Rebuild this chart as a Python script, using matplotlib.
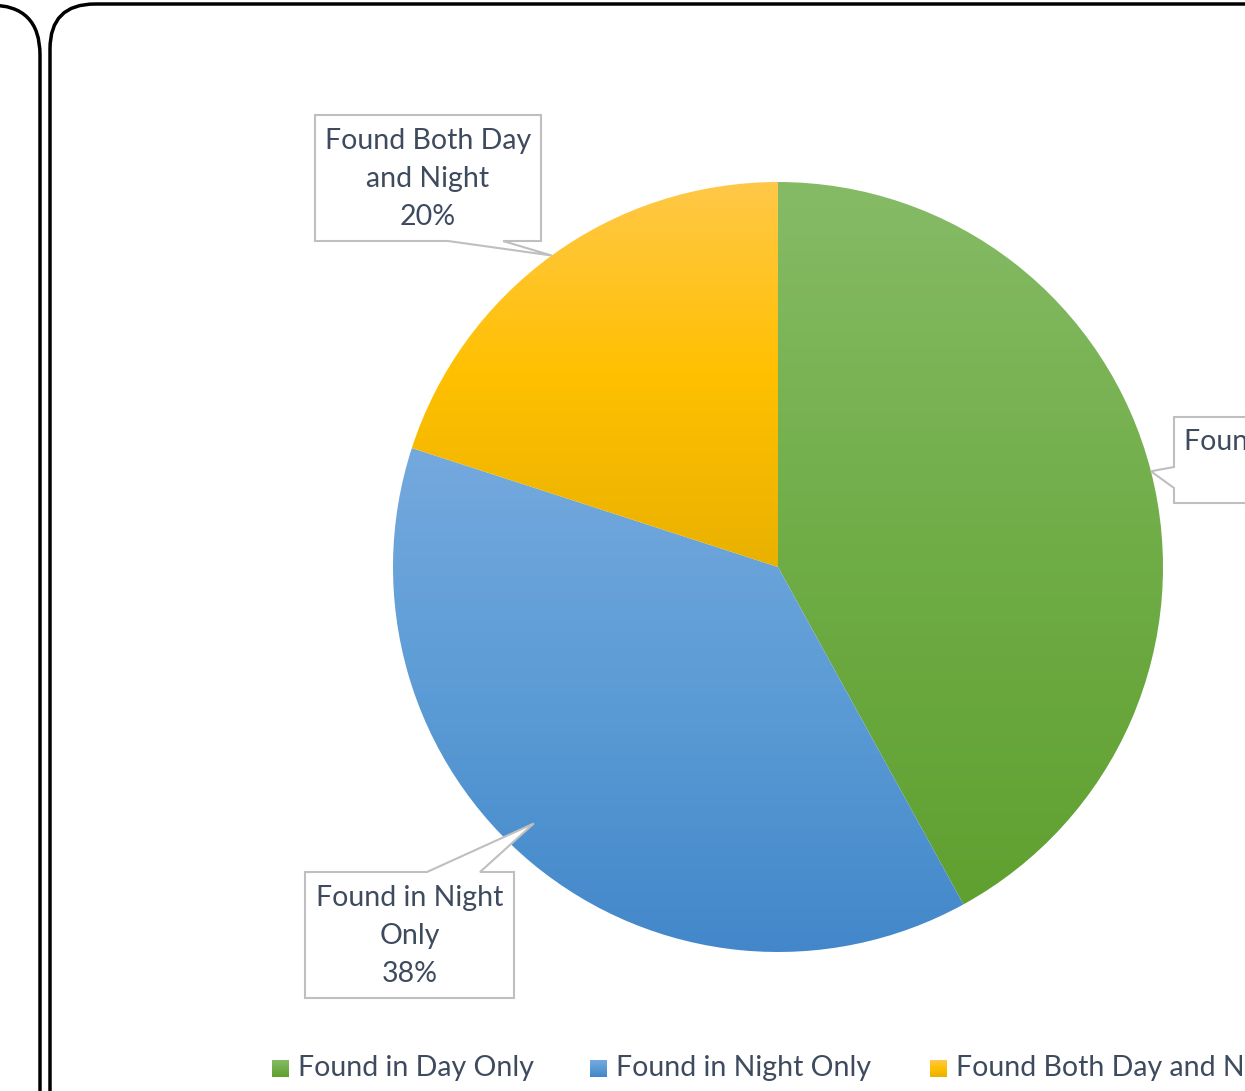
import matplotlib
matplotlib.use("Agg")
import matplotlib.pyplot as plt
import numpy as np
from matplotlib.patches import FancyBboxPatch, Polygon
from matplotlib.colors import LinearSegmentedColormap

# ---- data ----
categories = ["Found in Day Only", "Found in Night Only", "Found Both Day and Night"]
label_text = ["Found in Day Only", "Found in Night\nOnly", "Found Both Day\nand Night"]
values = [42, 38, 20]
grad_colors = [
    ["#86BB66", "#70AD47", "#60A030"],
    ["#74A9DE", "#5B9BD5", "#4287CA"],
    ["#FFC848", "#FFC000", "#E9B100"],
]
legend_colors = ["#70AD47", "#5B9BD5", "#FFC000"]
text_color = "#3E4B5F"
FONT = "Lato"
FS = 20.5

W, H = 1245, 1091
CX, CY, R = 778, 567, 385

fig = plt.figure(figsize=(W / 100, H / 100), dpi=100)
ax = fig.add_axes([0, 0, 1, 1])
ax.set_aspect("equal")
ax.axis("off")


def P(x, y):
    """pixel (top-left origin) -> data coords"""
    return ((x - CX) / R, (CY - y) / R)


def limits():
    ax.set_xlim(-CX / R, (W - CX) / R)
    ax.set_ylim(-(H - CY) / R, CY / R)


# ---- pie ----
wedges, _ = ax.pie(values, startangle=90, counterclock=False, radius=1,
                   colors=legend_colors, wedgeprops=dict(linewidth=0))
for w, cols in zip(wedges, grad_colors):
    w.set_facecolor("none")
    path = w.get_path()
    verts = w.get_transform().transform(path.vertices)
    verts = ax.transData.inverted().transform(verts)
    x0, x1 = verts[:, 0].min(), verts[:, 0].max()
    y0, y1 = verts[:, 1].min(), verts[:, 1].max()
    cmap = LinearSegmentedColormap.from_list("g", cols[::-1])
    grad = np.linspace(0, 1, 256).reshape(-1, 1)
    im = ax.imshow(grad, extent=[x0, x1, y0, y1], origin="lower", cmap=cmap,
                   aspect="auto", zorder=1, interpolation="bilinear")
    im.set_clip_path(w)
limits()

# ---- data label callouts ----
angles = []
acc = 0
for v in values:
    mid = 90 - (acc + v / 2) * 360 / sum(values)
    angles.append(np.deg2rad(mid))
    acc += v

boxes = [
    dict(box=(1174, 417, 1440, 503), base=((1174, 467), (1174, 488)), tr=1.0, da=0.0,
         text_xy=(1302, 461)),
    dict(box=(305, 872, 514, 998), base=((427, 872), (480, 872)), tr=0.92, da=-4.0,
         text_xy=(409.5, 936)),
    dict(box=(315, 115, 541, 241), base=((448, 241), (503, 241)), tr=1.0, da=0.0,
         text_xy=(428, 179)),
]
edge = "#BFBFBF"
for i, b in enumerate(boxes):
    l, t, r, bt = b["box"]
    a = angles[i] + np.deg2rad(b["da"])
    tip = (b["tr"] * np.cos(a), b["tr"] * np.sin(a))
    b1, b2 = P(*b["base"][0]), P(*b["base"][1])
    p_lt, p_rt, p_rb, p_lb = P(l, t), P(r, t), P(r, bt), P(l, bt)
    if i == 0:
        pts = [p_lt, p_rt, p_rb, p_lb, b2, tip, b1]
    elif i == 1:
        pts = [p_lt, b1, tip, b2, p_rt, p_rb, p_lb]
    else:
        pts = [p_lt, p_rt, p_rb, b2, tip, b1, p_lb]
    poly = Polygon(pts, closed=True, facecolor="white", edgecolor=edge,
                   linewidth=1.5, zorder=3, joinstyle="miter")
    ax.add_patch(poly)
    txt = f"{label_text[i]}\n{values[i]}%"
    ax.text(*P(*b["text_xy"]), txt, ha="center", va="center", fontsize=FS,
            family=FONT, color=text_color, zorder=4, linespacing=1.58)

# ---- legend ----
leg_x = [272, 590, 930]
for i, c in enumerate(categories):
    x0, y0 = P(leg_x[i], 1077)
    sq = 17 / R
    cmap = LinearSegmentedColormap.from_list("g", grad_colors[i][::-1])
    ax.imshow(np.linspace(0, 1, 32).reshape(-1, 1), extent=[x0, x0 + sq, y0, y0 + sq],
              origin="lower", cmap=cmap, aspect="auto", zorder=3)
    ax.text(*P(leg_x[i] + 26, 1068), c, ha="left", va="center", fontsize=FS,
            family=FONT, color=text_color, zorder=4)
limits()

# ---- frame decorations (rounded chart borders) ----
ov = fig.add_axes([0, 0, 1, 1], facecolor="none")
ov.set_xlim(0, W)
ov.set_ylim(H, 0)
ov.axis("off")
ov.add_patch(FancyBboxPatch((-400, 5), 440, 1200, boxstyle="round,pad=0,rounding_size=50",
                            facecolor="none", edgecolor="black", linewidth=2.5))
ov.add_patch(FancyBboxPatch((50, 4), 1400, 1200, boxstyle="round,pad=0,rounding_size=45",
                            facecolor="none", edgecolor="black", linewidth=2.5))

fig.savefig("out.png", dpi=100)
